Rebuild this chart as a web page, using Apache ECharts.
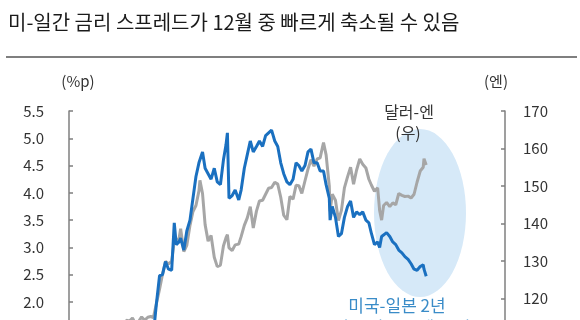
<!DOCTYPE html>
<html><head><meta charset="utf-8">
<script src="https://cdn.jsdelivr.net/npm/echarts@6/dist/echarts.min.js"></script>
<style>html,body{margin:0;padding:0;background:#fff}#c{width:580px;height:320px}</style>
</head><body><div id="c"></div>
<script>
const titleText = '미-일간 금리 스프레드가 12월 중 빠르게 축소될 수 있음';
const leftAxisName = '(%p)';
const rightAxisName = '(엔)';
const seriesNames = ['미국-일본 2년 국채 금리 스프레드(좌)', '달러-엔(우)'];
const dates = [
'2021-01-01','2021-01-16','2021-02-01','2021-02-16','2021-03-01','2021-03-16','2021-04-01','2021-04-16','2021-05-01','2021-05-16','2021-06-01','2021-06-16',
'2021-07-01','2021-07-16','2021-08-01','2021-08-16','2021-09-01','2021-09-16','2021-10-01','2021-10-16','2021-11-01','2021-11-16','2021-12-01','2021-12-16',
'2022-01-01','2022-01-16','2022-02-01','2022-02-16','2022-03-01','2022-03-16','2022-04-01','2022-04-16','2022-05-01','2022-05-16','2022-06-01','2022-06-14',
'2022-06-24','2022-07-08','2022-07-16','2022-08-01','2022-08-16','2022-09-01','2022-09-16','2022-10-01','2022-10-16','2022-10-21','2022-11-03','2022-11-16',
'2022-12-01','2022-12-16','2023-01-01','2023-01-16','2023-02-01','2023-02-16','2023-03-01','2023-03-08','2023-03-16','2023-04-01','2023-04-16','2023-05-04',
'2023-05-16','2023-06-01','2023-06-16','2023-07-01','2023-07-16','2023-08-01','2023-08-16','2023-09-01','2023-09-16','2023-10-01','2023-10-16','2023-11-01',
'2023-11-16','2023-12-01','2023-12-16','2024-01-01','2024-01-16','2024-02-01','2024-02-16','2024-03-01','2024-03-16','2024-04-01','2024-04-16','2024-05-01',
'2024-05-16','2024-06-01','2024-06-16','2024-07-03','2024-07-16','2024-08-01','2024-08-05','2024-08-16','2024-09-01','2024-09-16','2024-10-01','2024-10-16',
'2024-11-01','2024-11-16','2024-12-01','2024-12-16','2025-01-01','2025-01-16','2025-02-01','2025-02-16','2025-03-01','2025-03-16','2025-04-01','2025-04-11',
'2025-04-21','2025-05-01','2025-05-16','2025-06-01','2025-06-16','2025-07-01','2025-07-16','2025-08-01','2025-08-16','2025-09-01','2025-09-16','2025-10-01',
'2025-10-16','2025-11-01','2025-11-16','2025-11-20','2025-12-01'];
const spread = [
0.24,0.25,0.24,0.24,0.28,0.27,0.28,0.28,0.28,0.27,0.26,0.34,
0.37,0.34,0.29,0.33,0.33,0.35,0.40,0.52,0.60,0.62,0.67,0.77,
0.85,1.10,1.21,1.51,1.40,1.96,2.48,2.50,2.74,2.60,2.58,3.45,
3.05,3.10,3.17,2.95,3.30,3.50,3.90,4.30,4.55,4.55,4.75,4.45,
4.35,4.25,4.45,4.20,4.15,4.60,4.88,5.10,3.90,3.95,4.05,3.87,
4.05,4.45,4.70,4.95,4.75,4.85,4.95,4.85,5.05,5.10,5.15,4.95,
4.85,4.55,4.35,4.20,4.15,4.25,4.55,4.50,4.40,4.50,4.75,4.80,
4.55,4.55,4.40,4.40,4.15,3.90,3.50,3.75,3.55,3.20,3.25,3.55,
3.75,3.85,3.55,3.65,3.60,3.65,3.50,3.45,3.25,3.05,3.10,3.00,
3.20,3.20,3.27,3.20,3.10,3.05,2.95,2.90,2.83,2.78,2.70,2.60,
2.58,2.65,2.68,2.60,2.47];
const usdjpy = [
103.2,103.8,104.9,105.8,106.7,109.0,110.6,108.8,109.3,109.2,109.5,110.7,
111.5,110.1,109.5,109.6,110.0,109.8,111.0,114.2,114.0,114.8,113.2,113.8,
115.1,114.2,115.0,115.2,114.9,118.6,122.5,126.5,129.9,129.2,130.0,135.3,
135.0,136.0,138.6,132.5,134.2,139.5,143.2,144.8,148.7,151.5,148.0,139.7,
135.3,136.8,131.0,128.5,128.9,134.0,136.2,137.0,133.5,132.8,134.3,134.5,
136.5,139.5,141.5,144.5,138.8,143.3,146.0,146.2,147.8,149.4,149.6,151.0,
150.5,147.0,142.2,141.0,147.2,146.5,150.2,150.1,148.0,151.4,154.5,157.0,
155.3,157.2,157.5,161.6,158.3,150.0,143.3,147.8,146.2,140.8,143.5,149.5,
152.5,155.0,150.5,154.2,157.2,155.8,154.8,151.8,150.2,148.6,149.5,143.5,
140.9,144.8,145.6,144.5,145.5,145.0,148.0,147.5,147.2,147.3,146.8,147.8,
151.0,154.0,155.0,157.3,155.6];
const leftTicks = {min: 0, max: 5.5, interval: 0.5};
const rightTicks = {min: 90, max: 170, interval: 10};
const xRange = {min: '2021-01-01', max: '2027-01-01'};
const noteFx = ['달러-엔', '(우)'];
const noteSpread = ['미국-일본 2년', '국채 금리 스프레드(좌)'];

const FONT = '"Noto Sans CJK KR", "Noto Sans", sans-serif';
const chart = echarts.init(document.getElementById('c'), null, {renderer: 'canvas'});
const axisLineStyle = {color: '#7f7f7f', width: 1.5};
chart.setOption({
  animation: false,
  textStyle: {fontFamily: FONT},
  grid: {left: 69, right: 75, top: 111, height: 300, containLabel: false, outerBoundsMode: 'none'},
  xAxis: {
    type: 'time', min: xRange.min, max: xRange.max,
    axisLine: {lineStyle: axisLineStyle}, axisTick: {show: false},
    axisLabel: {color: '#333', fontSize: 14}, splitLine: {show: false}
  },
  yAxis: [{
    type: 'value', position: 'left', min: leftTicks.min, max: leftTicks.max, interval: leftTicks.interval,
    name: leftAxisName, nameLocation: 'end', nameGap: 22,
    nameTextStyle: {color: '#333', fontSize: 15, fontFamily: FONT, padding: [0, 0, 0, 18]},
    axisLine: {show: true, lineStyle: axisLineStyle},
    axisTick: {show: true, inside: true, length: 4, lineStyle: axisLineStyle},
    axisLabel: {color: '#333', fontSize: 15, margin: 25, fontFamily: FONT, formatter: v => v.toFixed(1)},
    splitLine: {show: false}
  }, {
    type: 'value', position: 'right', min: rightTicks.min, max: rightTicks.max, interval: rightTicks.interval,
    name: rightAxisName, nameLocation: 'end', nameGap: 22,
    nameTextStyle: {color: '#333', fontSize: 15, fontFamily: FONT, padding: [0, 18, 0, 0]},
    axisLine: {show: true, lineStyle: axisLineStyle},
    axisTick: {show: true, inside: true, length: 4, lineStyle: axisLineStyle},
    axisLabel: {color: '#333', fontSize: 15, margin: 18, fontFamily: FONT},
    splitLine: {show: false}
  }],
  graphic: [
    {type: 'text', left: 8, top: 12, style: {text: titleText, fill: '#1a1a1a', font: '20px ' + FONT}},
    {type: 'line', shape: {x1: 6, y1: 57, x2: 577, y2: 57}, style: {stroke: '#7f7f7f', lineWidth: 2}},
    {type: 'circle', x: 420, y: 213, scaleX: 46 / 84, shape: {cx: 0, cy: 0, r: 84}, style: {fill: '#d6e9f8'}, z: -1},
    {type: 'text', x: 409, y: 112, style: {text: noteFx[0], fill: '#333', font: '16px ' + FONT, align: 'center', verticalAlign: 'middle'}},
    {type: 'text', x: 408, y: 133, style: {text: noteFx[1], fill: '#333', font: '16px ' + FONT, align: 'center', verticalAlign: 'middle'}},
    {type: 'text', x: 397, y: 306, style: {text: noteSpread[0], fill: '#3a8cc8', font: '17px ' + FONT, align: 'center', verticalAlign: 'middle'}},
    {type: 'text', x: 397, y: 328, style: {text: noteSpread[1], fill: '#3a8cc8', font: '17px ' + FONT, align: 'center', verticalAlign: 'middle'}}
  ],
  series: [{
    name: seriesNames[1], type: 'line', yAxisIndex: 1, showSymbol: false, z: 2,
    lineStyle: {color: '#a6a6a6', width: 3},
    data: dates.map((d, i) => [d, usdjpy[i]])
  }, {
    name: seriesNames[0], type: 'line', yAxisIndex: 0, showSymbol: false, z: 3,
    lineStyle: {color: '#1a70c0', width: 3},
    data: dates.map((d, i) => [d, spread[i]])
  }]
});
</script></body></html>
